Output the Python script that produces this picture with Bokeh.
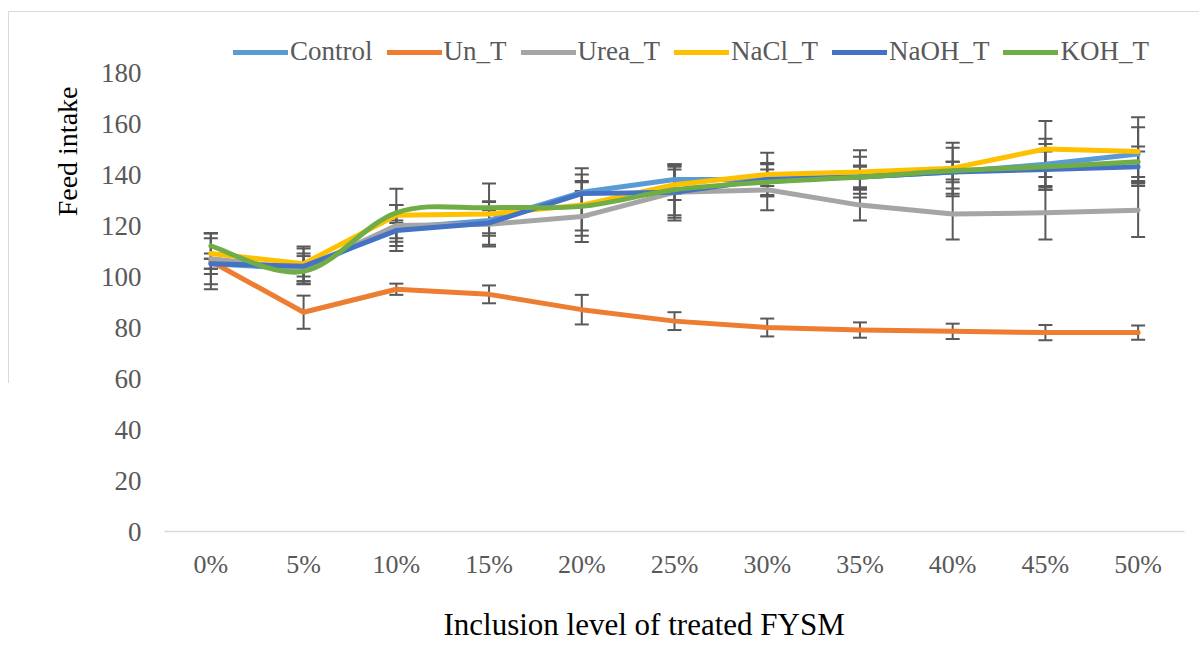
from bokeh.plotting import figure
from bokeh.models import ColumnDataSource, Whisker, TeeHead, FixedTicker, Legend, LegendItem, Title
from bokeh.embed import file_html
from bokeh.resources import INLINE

levels = ["0%", "5%", "10%", "15%", "20%", "25%", "30%", "35%", "40%", "45%", "50%"]

control = [105, 103, 119, 122, 133, 138, 138, 139, 141, 144, 148]
un_t = [106, 86, 95, 93, 87, 82.5, 80, 79, 78.5, 78, 78]
urea_t = [107, 103, 120, 120.5, 123.5, 133, 134, 128, 124.5, 125, 126]
nacl_t = [109, 105, 124, 124.5, 128, 136, 140, 141, 142.5, 150, 149]
naoh_t = [105, 104, 118, 121, 132.5, 133, 138, 139, 141, 142, 143]
koh_t = [112, 102, 125, 127, 127.5, 134, 137, 139, 141.5, 143, 145]

control_err = [10, 6, 9, 5, 9.5, 5.5, 6.5, 8, 9.5, 10, 10.5]
un_t_err = [3, 6.5, 2.2, 3.5, 5.8, 3.5, 3.5, 3, 3, 3, 2.8]
urea_t_err = [10, 5, 8, 8.7, 10, 11, 8, 6, 10, 10.5, 10.5]
nacl_t_err = [8, 6.8, 10.4, 12, 12, 6, 8.5, 8.5, 10, 11, 13.5]
naoh_t_err = [2, 7, 3, 5, 5, 10, 6, 4.5, 4, 7, 6]
koh_t_err = [5, 2, 3, 2.5, 9.5, 10, 1.5, 4, 3.5, 9, 6]

names = ["Control", "Un_T", "Urea_T", "NaCl_T", "NaOH_T", "KOH_T"]
series = [control, un_t, urea_t, nacl_t, naoh_t, koh_t]
errors = [control_err, un_t_err, urea_t_err, nacl_t_err, naoh_t_err, koh_t_err]
colors = ["#5B9BD5", "#ED7D31", "#A5A5A5", "#FFC000", "#4472C4", "#70AD47"]
smooth = [False, False, False, False, False, True]

y_ticks = list(range(0, 181, 20))
xs = list(range(len(levels)))

# frame extends above the 180 tick so that the legend sits inside it (no gridlines, so invisible)
p = figure(frame_width=1020, frame_height=501, output_backend="svg", toolbar_location=None,
           x_range=(-0.5, len(levels) - 0.5), y_range=(0, 501 / 2.55),
           min_border_left=164, min_border_right=15, min_border_top=30, min_border_bottom=139,
           border_fill_alpha=0, background_fill_color="white", outline_line_color=None,
           styles={"background": "linear-gradient(#d9d9d9,#d9d9d9) 8px 11px / 1191px 1px no-repeat, "
                                 "linear-gradient(#d9d9d9,#d9d9d9) 8px 11px / 1px 372px no-repeat, white"})

p.xgrid.visible = False
p.ygrid.visible = False

font = "Liberation Serif"
p.xaxis.ticker = FixedTicker(ticks=xs)
p.xaxis.major_label_overrides = {i: l for i, l in enumerate(levels)}
p.yaxis.ticker = FixedTicker(ticks=y_ticks)
for ax in (p.xaxis[0], p.yaxis[0]):
    ax.major_label_text_font = font
    ax.major_label_text_color = "#595959"
    ax.major_tick_line_color = None
    ax.minor_tick_line_color = None
p.yaxis.major_label_text_font_size = "27px"
p.xaxis.major_label_text_font_size = "26px"
p.yaxis.axis_line_color = None
p.xaxis.axis_line_color = "#D9D9D9"
p.xaxis.axis_line_width = 1.5
p.yaxis.major_label_standoff = 17
p.xaxis.major_label_standoff = 12

ytitle = Title(text="Feed intake", align="right", offset=56, standoff=30,
               text_font=font, text_font_size="28px", text_font_style="normal", text_color="black")
p.add_layout(ytitle, "left")
xtitle = Title(text="Inclusion level of treated FYSM", align="left", offset=279, standoff=47,
               text_font=font, text_font_size="31px", text_font_style="normal", text_color="black")
p.add_layout(xtitle, "below")

items = []
for name, ys, col, sm in zip(names, series, colors, smooth):
    if sm:
        n = len(ys)
        x0, y0, x1, y1, cx0, cy0, cx1, cy1 = [], [], [], [], [], [], [], []
        for i in range(n - 1):
            pxm, pym = (xs[i - 1], ys[i - 1]) if i > 0 else (xs[i], ys[i])
            pxp, pyp = (xs[i + 2], ys[i + 2]) if i + 2 < n else (xs[i + 1], ys[i + 1])
            x0.append(xs[i]); y0.append(ys[i]); x1.append(xs[i + 1]); y1.append(ys[i + 1])
            cx0.append(xs[i] + (xs[i + 1] - pxm) / 6); cy0.append(ys[i] + (ys[i + 1] - pym) / 6)
            cx1.append(xs[i + 1] - (pxp - xs[i]) / 6); cy1.append(ys[i + 1] - (pyp - ys[i]) / 6)
        r = p.bezier(x0=x0, y0=y0, x1=x1, y1=y1, cx0=cx0, cy0=cy0, cx1=cx1, cy1=cy1,
                     line_color=col, line_width=5, line_cap="round")
    else:
        r = p.line(xs, ys, line_color=col, line_width=5, line_cap="round", line_join="round")
    items.append(LegendItem(label=name, renderers=[r]))

for ys, errs in zip(series, errors):
    src = ColumnDataSource(dict(x=xs, upper=[y + e for y, e in zip(ys, errs)],
                                lower=[y - e for y, e in zip(ys, errs)]))
    w = Whisker(source=src, base="x", upper="upper", lower="lower",
                line_color="#595959", line_width=2,
                upper_head=TeeHead(size=14, line_color="#595959", line_width=2),
                lower_head=TeeHead(size=14, line_color="#595959", line_width=2))
    p.add_layout(w)

legend = Legend(items=items, orientation="horizontal", location=(69, 464),
                label_text_font=font, label_text_font_size="27px", label_text_color="#595959",
                glyph_width=55, glyph_height=20, label_standoff=2, spacing=14,
                padding=0, margin=0, border_line_color=None, background_fill_alpha=0)
p.add_layout(legend, "center")

open("out.html", "w").write(file_html(p, INLINE))
